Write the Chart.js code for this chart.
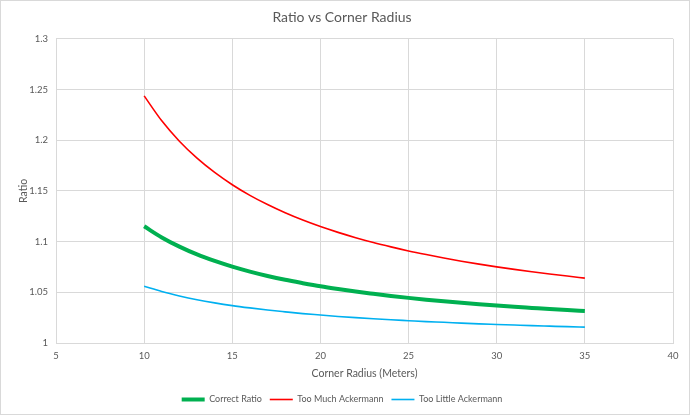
<!DOCTYPE html>
<html lang="en">
<head>
    <meta charset="UTF-8">
    <title>Ratio vs Corner Radius</title>
    <script src="https://cdn.jsdelivr.net/npm/chart.js"></script>
    <style>
        body, html {
            margin: 0;
            padding: 0;
            background: #fff;
        }
        .frame {
            width: 688px;
            height: 413px;
            border: 1px solid #d9d9d9;
        }
    </style>
</head>
<body>
    <div class="frame">
        <canvas id="ratioChart" width="688" height="413"></canvas>
    </div>

    <script>
        // corner radius (m)
        const radius = [10, 11, 12, 13, 14, 15, 16, 17, 18, 19, 20, 21, 22, 23, 24, 25, 26, 27, 28, 29, 30, 31, 32, 33, 34, 35];

        // values
        const correctRatio = [1.1151, 1.1041, 1.0950, 1.0873, 1.0809, 1.0753, 1.0704, 1.0661, 1.0623, 1.0590, 1.0559, 1.0532, 1.0507,
            1.0485, 1.0464, 1.0445, 1.0427, 1.0411, 1.0396, 1.0382, 1.0369, 1.0357, 1.0346, 1.0335, 1.0325, 1.0316];
        const tooMuch = [1.2437, 1.2191, 1.1990, 1.1823, 1.1682, 1.1561, 1.1456, 1.1365, 1.1284, 1.1212, 1.1148, 1.1091, 1.1039,
            1.0991, 1.0948, 1.0908, 1.0872, 1.0838, 1.0807, 1.0778, 1.0751, 1.0726, 1.0703, 1.0681, 1.0660, 1.0640];
        const tooLittle = [1.0559, 1.0507, 1.0464, 1.0427, 1.0396, 1.0369, 1.0346, 1.0325, 1.0307, 1.0290, 1.0276, 1.0262, 1.0250,
            1.0239, 1.0229, 1.0220, 1.0211, 1.0204, 1.0196, 1.0189, 1.0183, 1.0177, 1.0171, 1.0166, 1.0161, 1.0157];

        const xTicks = [5, 10, 15, 20, 25, 30, 35, 40];
        const yTicks = ['1', '1.05', '1.1', '1.15', '1.2', '1.25', '1.3'];

        const toPoints = (ys) => radius.map((r, i) => ({ x: r, y: ys[i] }));

        const textGray = '#595959';
        const gridGray = '#d9d9d9';
        const font = 'Lato, "Open Sans", sans-serif';

        const ctx = document.getElementById('ratioChart').getContext('2d');
        new Chart(ctx, {
            type: 'line',
            data: {
                datasets: [
                    {
                        label: 'Correct Ratio',
                        data: toPoints(correctRatio),
                        borderColor: '#00b050',
                        borderWidth: 4,
                        pointRadius: 0,
                        cubicInterpolationMode: 'monotone',
                        fill: false
                    },
                    {
                        label: 'Too Much Ackermann',
                        data: toPoints(tooMuch),
                        borderColor: '#ff0000',
                        borderWidth: 1.6,
                        pointRadius: 0,
                        cubicInterpolationMode: 'monotone',
                        fill: false
                    },
                    {
                        label: 'Too Little Ackermann',
                        data: toPoints(tooLittle),
                        borderColor: '#00b0f0',
                        borderWidth: 1.6,
                        pointRadius: 0,
                        cubicInterpolationMode: 'monotone',
                        fill: false
                    }
                ]
            },
            options: {
                responsive: false,
                animation: false,
                layout: {
                    padding: { left: 10, right: 16, top: 0, bottom: 0 }
                },
                plugins: {
                    title: {
                        display: true,
                        text: 'Ratio vs Corner Radius',
                        color: textGray,
                        font: { family: font, size: 14, weight: 'normal' },
                        padding: { top: 8, bottom: 13 }
                    },
                    legend: {
                        position: 'bottom',
                        labels: {
                            color: textGray,
                            font: { family: font, size: 9 },
                            usePointStyle: true,
                            pointStyle: 'line',
                            pointStyleWidth: 23,
                            boxHeight: 8,
                            padding: 8
                        }
                    },
                    tooltip: { enabled: false }
                },
                scales: {
                    x: {
                        type: 'linear',
                        min: xTicks[0],
                        max: xTicks[xTicks.length - 1],
                        afterBuildTicks: (scale) => { scale.ticks = xTicks.map(v => ({ value: v })); },
                        afterFit: (scale) => { scale.height = 44; },
                        grid: { color: gridGray, drawTicks: false },
                        border: { color: gridGray },
                        ticks: {
                            color: textGray,
                            font: { family: font, size: 9.5 },
                            padding: 7
                        },
                        title: {
                            display: true,
                            text: 'Corner Radius (Meters)',
                            color: textGray,
                            font: { family: font, size: 10.5 },
                            padding: { top: 2, bottom: 7 }
                        }
                    },
                    y: {
                        min: 1,
                        max: 1.3,
                        afterBuildTicks: (scale) => { scale.ticks = yTicks.map(v => ({ value: Number(v) })); },
                        afterFit: (scale) => { scale.width = 45; },
                        grid: { color: gridGray, drawTicks: false },
                        border: { color: gridGray },
                        ticks: {
                            color: textGray,
                            font: { family: font, size: 9.5 },
                            padding: 8,
                            callback: (v) => yTicks.find(t => Number(t) === v) ?? String(v)
                        },
                        title: {
                            display: true,
                            text: 'Ratio',
                            color: textGray,
                            font: { family: font, size: 10.5 },
                            padding: { top: 6, bottom: 4 }
                        }
                    }
                }
            }
        });
    </script>
</body>
</html>
